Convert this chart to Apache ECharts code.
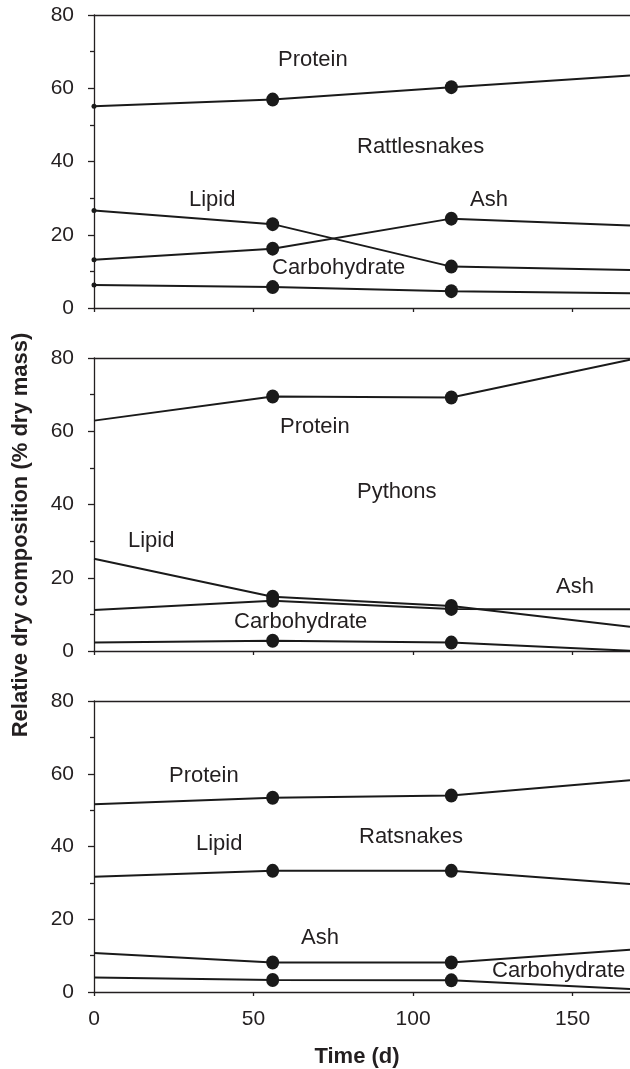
<!DOCTYPE html>
<html style="height: 100%">

<head>
    <meta charset="utf-8">
</head>

<body style="height: 100%; margin: 0; background: #fff">
    <div id="container" style="width: 630px; height: 1069px"></div>
    <script type="text/javascript" src="https://cdn.jsdelivr.net/npm/echarts@6/dist/echarts.min.js"></script>
    <script type="text/javascript">
        // sampling days
        var days = [0, 56, 112, 168];
        var xTicks = [0, 50, 100, 150];

        // Rattlesnakes
        var rattleProtein = [55.1, 56.9, 60.3, 63.5];
        var rattleLipid = [26.6, 22.9, 11.3, 10.4];
        var rattleAsh = [13.2, 16.2, 24.4, 22.5];
        var rattleCarb = [6.3, 5.7, 4.6, 4.0];

        // Pythons
        var pythonProtein = [62.9, 69.5, 69.2, 79.5];
        var pythonLipid = [25.2, 14.8, 12.3, 6.6];
        var pythonAsh = [11.2, 13.7, 11.5, 11.4];
        var pythonCarb = [2.3, 2.8, 2.3, 0.1];

        // Ratsnakes
        var ratProtein = [51.6, 53.4, 54.0, 58.2];
        var ratLipid = [31.7, 33.3, 33.3, 29.7];
        var ratAsh = [10.7, 8.1, 8.1, 11.6];
        var ratCarb = [4.0, 3.3, 3.2, 0.8];

        var ink = '#231f20';
        var font = '"Liberation Sans", Arial, sans-serif';

        var panels = [
            { top: 15, height: 293, lines: [rattleProtein, rattleLipid, rattleAsh, rattleCarb], dotAtStart: true },
            { top: 358, height: 293, lines: [pythonProtein, pythonLipid, pythonAsh, pythonCarb], dotAtStart: false },
            { top: 701, height: 291, lines: [ratProtein, ratLipid, ratAsh, ratCarb], dotAtStart: false }
        ];

        function makeData(vals, dotAtStart) {
            return days.map(function (d, i) {
                var size = [13, 14];
                if (i === 0) size = dotAtStart ? 5 : 0;
                if (i === days.length - 1) size = 0;
                return { value: [d, vals[i]], symbolSize: size };
            });
        }

        var grid = [], xAxis = [], yAxis = [], series = [];
        panels.forEach(function (p, k) {
            grid.push({ left: 94, right: 0, top: p.top, height: p.height });
            xAxis.push({
                type: 'value', gridIndex: k, min: 0, max: 168, interval: 50,
                axisLine: { lineStyle: { color: ink, width: 1.3 } },
                axisTick: { show: true, length: 4, lineStyle: { color: ink, width: 1.3 }, customValues: xTicks },
                axisLabel: {
                    show: k === 2, margin: 17, color: ink, fontSize: 21, fontFamily: font,
                    customValues: xTicks
                },
                splitLine: { show: false }
            });
            xAxis.push({
                type: 'value', gridIndex: k, position: 'top', min: 0, max: 168,
                axisLine: { show: true, lineStyle: { color: ink, width: 1.3 } },
                axisTick: { show: false }, axisLabel: { show: false }, splitLine: { show: false }
            });
            yAxis.push({
                type: 'value', gridIndex: k, min: 0, max: 80, interval: 20,
                axisLine: { show: true, lineStyle: { color: ink, width: 1.3 } },
                axisTick: { show: true, length: 6, lineStyle: { color: ink, width: 1.3 } },
                minorTick: { show: true, splitNumber: 2, length: 4, lineStyle: { color: ink, width: 1.3 } },
                axisLabel: { margin: 20, color: ink, fontSize: 21, fontFamily: font },
                splitLine: { show: false }
            });
            p.lines.forEach(function (vals) {
                series.push({
                    type: 'line', xAxisIndex: k * 2, yAxisIndex: k,
                    symbol: 'circle',
                    data: makeData(vals, p.dotAtStart),
                    lineStyle: { color: '#1a1a1a', width: 2 },
                    itemStyle: { color: '#1a1a1a' },
                    silent: true, animation: false
                });
            });
        });

        function label(text, x, y) {
            return {
                type: 'text', x: x, y: y,
                style: { text: text, fill: ink, fontSize: 22, fontFamily: font, textAlign: 'left', textVerticalAlign: 'middle' }
            };
        }

        var graphic = [
            label('Protein', 278, 60), label('Rattlesnakes', 357, 147), label('Lipid', 189, 200),
            label('Ash', 470, 200), label('Carbohydrate', 272, 268),
            label('Protein', 280, 427), label('Pythons', 357, 492), label('Lipid', 128, 541),
            label('Ash', 556, 587), label('Carbohydrate', 234, 622),
            label('Protein', 169, 776), label('Lipid', 196, 844), label('Ratsnakes', 359, 837),
            label('Ash', 301, 938), label('Carbohydrate', 492, 971),
            {
                type: 'text', x: 357, y: 1057,
                style: { text: 'Time (d)', fill: ink, fontSize: 22, fontWeight: 'bold', fontFamily: font, textAlign: 'center', textVerticalAlign: 'middle' }
            },
            {
                type: 'text', x: 21, y: 535, rotation: Math.PI / 2,
                style: { text: 'Relative dry composition (% dry mass)', fill: ink, fontSize: 22, fontWeight: 'bold', fontFamily: font, textAlign: 'center', textVerticalAlign: 'middle' }
            }
        ];

        var myChart = echarts.init(document.getElementById('container'));
        myChart.setOption({
            animation: false,
            grid: grid,
            xAxis: xAxis,
            yAxis: yAxis,
            series: series,
            graphic: graphic
        });
    </script>
</body>

</html>
